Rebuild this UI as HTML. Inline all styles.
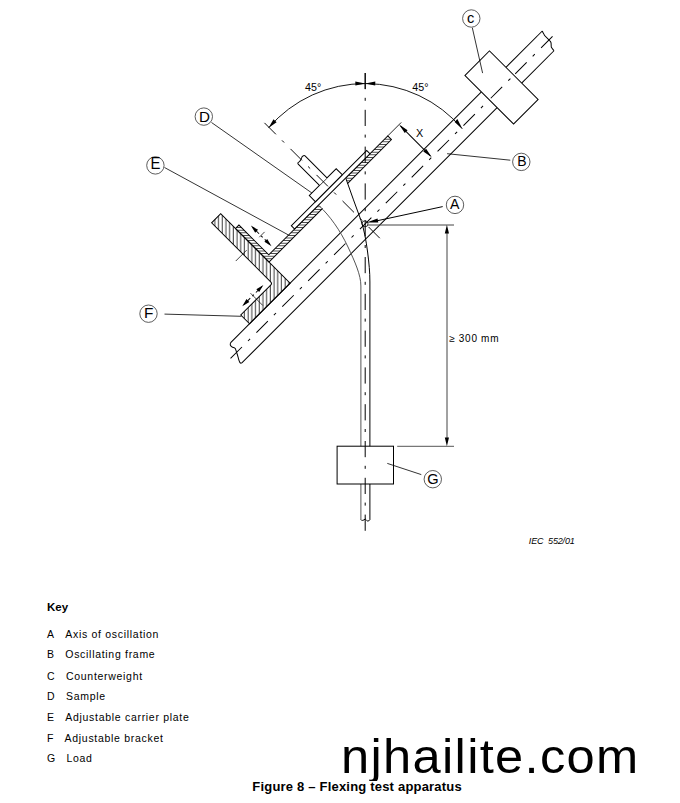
<!DOCTYPE html>
<html><head><meta charset="utf-8"><style>
html,body{margin:0;padding:0;background:#fff;}
body{width:680px;height:803px;position:relative;overflow:hidden;font-family:"Liberation Sans",sans-serif;color:#000;}
.t{position:absolute;white-space:pre;line-height:1;}
.k{font-size:10.5px;letter-spacing:0.7px;}
.b{font-weight:bold;}
</style></head><body>
<svg width="680" height="803" viewBox="0 0 680 803" style="position:absolute;left:0;top:0">
<defs>
 <pattern id="hv" patternUnits="userSpaceOnUse" width="3.7" height="10" patternTransform="rotate(45)">
   <line x1="1.2" y1="0" x2="1.2" y2="10" stroke="#000" stroke-width="0.8"/>
 </pattern>
 <pattern id="hh" patternUnits="userSpaceOnUse" width="10" height="2.6" patternTransform="rotate(45)">
   <line x1="0" y1="1.3" x2="10" y2="1.3" stroke="#000" stroke-width="0.75"/>
 </pattern>
</defs><g transform="translate(365.3,223.7) rotate(-45)" stroke="#000" stroke-width="1" fill="none"><line x1="-179.6" y1="-11.1" x2="175.3" y2="-11.1" /><line x1="210" y1="-11.1" x2="261.4" y2="-11.1" /><line x1="-185.7" y1="11.1" x2="175.3" y2="11.1" /><line x1="210" y1="11.1" x2="255.7" y2="11.1" /><path d="M261.4,-11.1 C260.3,-9 260.6,-7.5 259.9,-6.6 L259.9,0.5 C260,2 259.8,2.8 259.2,3.5 L256.4,6.6 C256,8 255.9,9.5 255.7,11.1" fill="none"/><path d="M-179.6,-11.1 C-182.6,-9.8 -181.6,-6.5 -180.3,-5 C-179.3,-3.5 -181.6,-1.2 -182.3,0.6 C-183.2,2.8 -184.8,5 -185.8,7 C-186.8,9 -187.6,10.5 -185.7,11.1" fill="none"/><line x1="-192.1" y1="0" x2="267" y2="0" stroke-dasharray="16.2 8.5 3 8.9" stroke-dashoffset="35.1"/><rect x="175.3" y="-34.4" width="34.7" height="68.8" fill="#fff"/><line x1="175.3" y1="0" x2="210" y2="0" stroke-dasharray="16.2 8.6 3 9" stroke-dashoffset="34.70"/><path d="M-152.6,-11.1 L-152.6,-23.5 L-110.3,-23.5 Q-108,-23.5 -108,-25.8 L-108,-109.3 L-95.2,-109.3 L-95.2,-11.1 Z" fill="url(#hv)"/><path d="M-19.4,-41 L-95.2,-41 L-95.2,-88.4 L-90.3,-88.4 L-90.3,-46.2 L-19.4,-46.2" fill="url(#hh)"/><path d="M18.3,-46.2 L78,-46.2 L78,-41 L15.8,-41" fill="url(#hh)"/><rect x="-53.8" y="-50.8" width="106.6" height="4.6" fill="#fff"/><rect x="-19.7" y="-59.5" width="38" height="8.7" fill="#fff"/><path d="M-5.3,-59.5 L-5.3,-89.6 C-5.3,-90.6 -4.5,-90.8 -3.5,-90.5 C-1,-89.8 1,-91.5 2.5,-92 C4,-92.3 5.3,-91.6 5.3,-90.5 L5.3,-59.5" fill="#fff"/><line x1="0" y1="-142.6" x2="0" y2="20.5" stroke-dasharray="16.2 8.6 3 9" stroke-dashoffset="0" stroke-width="0.9"/><line x1="78" y1="-46.2" x2="97" y2="-46.2" stroke-width="0.8"/><line x1="94" y1="-44" x2="94" y2="-2" /><path d="M94,-46.2 L92,-36.2 L96,-36.2 Z M94,0 L92,-10 L96,-10 Z" fill="#000" stroke="none"/><line x1="-82.2" y1="-77" x2="-82.2" y2="-53" stroke-dasharray="9 3 2 3"/><path d="M-82.2,-79.6 L-84.2,-71.5 L-80.2,-71.5 Z M-82.2,-50.4 L-84.2,-58.5 L-80.2,-58.5 Z" fill="#000" stroke="none"/><line x1="-84.5" y1="-65.4" x2="-77" y2="-65.4" stroke-width="0.7"/><line x1="-118" y1="-65.2" x2="-102.6" y2="-65.2" stroke-width="0.7"/><line x1="-143" y1="-28.7" x2="-117.5" y2="-28.7" stroke-dasharray="9 3 2 3"/><path d="M-145.3,-28.7 L-137.3,-30.7 L-137.3,-26.7 Z M-115.4,-28.7 L-123.4,-30.7 L-123.4,-26.7 Z" fill="#000" stroke="none"/><line x1="-130.3" y1="-32" x2="-130.3" y2="-14.6" stroke-width="0.7"/></g><g stroke="#000" stroke-width="1" fill="none"><line x1="365.2" y1="73" x2="365.2" y2="531" stroke-dasharray="16.2 8.6 3 9"/><path d="M346,178.8 C351,193 356,207 361,220.4 C364,229 366,240 367.6,252 C369,263 369.9,272 369.9,282 L369.9,519.6" fill="none"/><path d="M318.8,205.5 C330,216 340,230 348,247 C355,262 360.9,275 360.9,286 L360.9,519.6" fill="none" stroke="#555"/><path d="M360.9,519.6 C361.5,521 363.5,520.5 365.3,519 C366.5,520 367,521.3 368,521 C369.5,520.5 369.9,520 369.9,519.6" fill="none"/><rect x="337.1" y="446.2" width="56.4" height="37.8" fill="#fff"/><line x1="365.2" y1="446.2" x2="365.2" y2="484" stroke-dasharray="16.2 8.6 3 9" stroke-dashoffset="5.20"/><circle cx="365" cy="223.8" r="3" fill="none" stroke-width="0.8"/><path d="M268.6,127.8 A127.2,127.2 0 0 1 462.3,128.8" fill="none" stroke-width="0.9"/><line x1="365.2" y1="73" x2="365.2" y2="89" /><path d="M268.6,127.8 L273.5,119.3 L276.6,122.3 Z" fill="#000" stroke="none"/><path d="M462.3,128.8 L454.6,121.9 L457.4,118.9 Z" fill="#000" stroke="none"/><path d="M365.3,83.5 L355.3,81.6 L355.4,85.6 Z M365.3,83.5 L375.3,81.6 L375.2,85.6 Z" fill="#000" stroke="none"/><line x1="368" y1="225" x2="454" y2="225" stroke="#444"/><line x1="397.2" y1="446.3" x2="454" y2="446.3" stroke="#555"/><line x1="447" y1="232" x2="447" y2="439" stroke="#444"/><path d="M446.9,224.8 L444.8,233.5 L449,233.5 Z M446.9,446.2 L444.8,437.4 L449,437.4 Z" fill="#000" stroke="none"/><line x1="442.7" y1="206.6" x2="376" y2="221" /><path d="M366.6,222.5 L377.5,218.6 L378.3,222.6 Z" fill="#000" stroke="none"/><line x1="510.3" y1="160.2" x2="447.1" y2="153.7" stroke-width="0.8"/><line x1="472.3" y1="27.7" x2="482.6" y2="73.1" stroke-width="0.8"/><line x1="211.5" y1="122.5" x2="311.9" y2="193" stroke-width="0.8"/><line x1="164.5" y1="167.5" x2="288.5" y2="235" stroke-width="0.8"/><line x1="164.5" y1="314.1" x2="241.3" y2="316.3" stroke-width="0.8"/><line x1="421.3" y1="474.6" x2="387.3" y2="463.4" stroke-width="0.8"/><circle cx="455" cy="204.9" r="8.7" fill="#fff" stroke="#333" stroke-width="0.8"/><circle cx="521.3" cy="161.9" r="8.7" fill="#fff" stroke="#333" stroke-width="0.8"/><circle cx="471.3" cy="18.5" r="8.7" fill="#fff" stroke="#333" stroke-width="0.8"/><circle cx="203.8" cy="116.6" r="8.7" fill="#fff" stroke="#333" stroke-width="0.8"/><circle cx="155.4" cy="165.4" r="8.7" fill="#fff" stroke="#333" stroke-width="0.8"/><circle cx="148.5" cy="313.7" r="8.7" fill="#fff" stroke="#333" stroke-width="0.8"/><circle cx="432.8" cy="479.2" r="8.7" fill="#fff" stroke="#333" stroke-width="0.8"/></g><g font-family="Liberation Sans, sans-serif" fill="#000"><text x="450.1" y="208.8" font-size="15.4" transform="translate(450.1,0) scale(0.92,1) translate(-450.1,0)">A</text><text x="517.3" y="165.8" font-size="14" >B</text><text x="466.9" y="22.6" font-size="14.6" >c</text><text x="198.9" y="121.5" font-size="15.2" >D</text><text x="150.6" y="168.9" font-size="16" transform="translate(150.6,0) scale(0.93,1) translate(-150.6,0)">E</text><text x="143.9" y="317.8" font-size="15.4" >F</text><text x="427.3" y="483.8" font-size="14.6" >G</text><text x="305" y="90.9" font-size="10.7" >45°</text><text x="412.3" y="90.9" font-size="10.7" >45°</text><text x="415.9" y="136.8" font-size="10.8" >X</text><text x="449.2" y="341.5" font-size="10" letter-spacing="0.7">≥ 300 mm</text><text x="528.8" y="543.9" font-size="9" font-style="italic" letter-spacing="-0.15">IEC&#160;&#160;552/01</text></g></svg>
<div class="t b" style="left:47px;top:601.9px;font-size:11.5px">Key</div><div class="t k" style="left:47px;top:628.5px">A</div><div class="t k" style="left:65.3px;top:628.5px">Axis of oscillation</div><div class="t k" style="left:47px;top:649.2px">B</div><div class="t k" style="left:65.3px;top:649.2px">Oscillating frame</div><div class="t k" style="left:47px;top:670.7px">C</div><div class="t k" style="left:66.0px;top:670.7px">Counterweight</div><div class="t k" style="left:47px;top:691.3px">D</div><div class="t k" style="left:66.0px;top:691.3px">Sample</div><div class="t k" style="left:47px;top:712.0px">E</div><div class="t k" style="left:65.3px;top:712.0px">Adjustable carrier plate</div><div class="t k" style="left:47px;top:732.6px">F</div><div class="t k" style="left:64.6px;top:732.6px">Adjustable bracket</div><div class="t k" style="left:47px;top:752.5px">G</div><div class="t k" style="left:66.5px;top:752.5px">Load</div>
<div style="position:absolute;left:330px;top:725px;width:340px;height:56px;overflow:hidden"><div class="t" style="left:11px;top:8.1px;font-size:48px;letter-spacing:1.25px;transform:scaleX(1.055);transform-origin:0 0">njhailite.com</div></div>
<div class="t b" style="left:252.3px;top:779.6px;font-size:13px;letter-spacing:0.2px">Figure 8 – Flexing test apparatus</div>
</body></html>
